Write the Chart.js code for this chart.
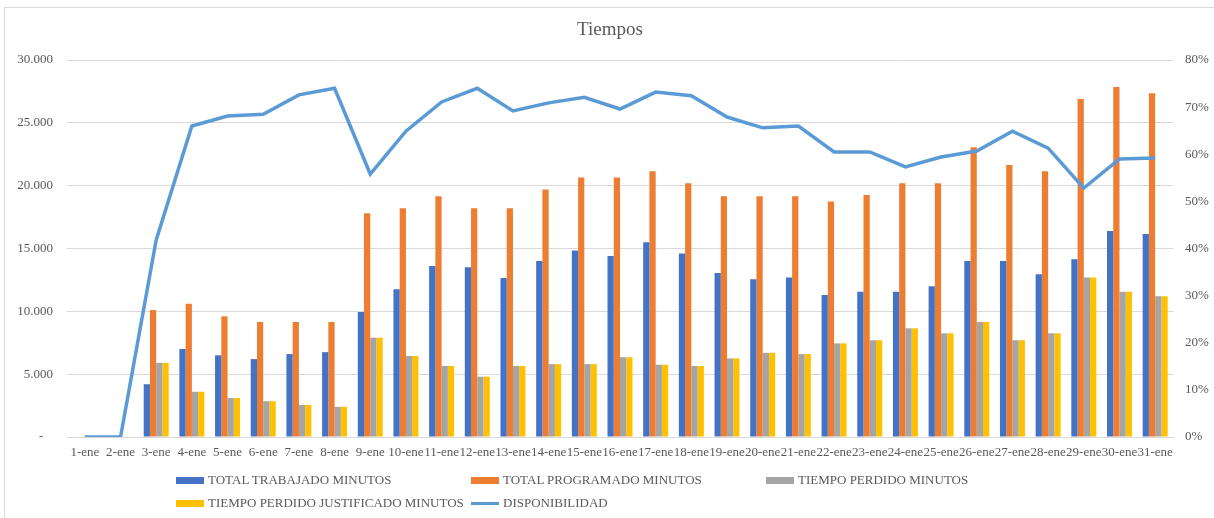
<!DOCTYPE html>
<html>
<head>
<meta charset="utf-8">
<title>Tiempos</title>
<script src="https://cdn.jsdelivr.net/npm/chart.js@4.4.0/dist/chart.umd.min.js"></script>
<style>
  html, body { margin: 0; padding: 0; background: #fff; }
  #wrap { position: relative; width: 1214px; height: 518px; overflow: hidden; }
  #frame { position: absolute; left: 4px; top: 7px; width: 1300px; height: 600px;
           border-left: 1px solid #d9d9d9; border-top: 1px solid #d9d9d9; }
  #title { position: absolute; left: 0; width: 1220px; top: 18px; text-align: center;
           font: 19px "Liberation Serif", serif; color: #595959; }
  canvas { position: absolute; left: 0; top: 0; }
  .lg { position: absolute; font: 13px "Liberation Serif", serif; color: #595959;
        white-space: nowrap; display: flex; align-items: center; }
  .lg i { display: inline-block; width: 28px; margin-right: 4px; }
</style>
</head>
<body>
<div id="wrap">
  <div id="frame"></div>
  <canvas id="tiemposChart" width="1214" height="518"></canvas>
  <div id="title">Tiempos</div>
  <div id="legend"></div>
</div>
<script>
"use strict";

// Days of January
const dias = ["1-ene","2-ene","3-ene","4-ene","5-ene","6-ene","7-ene","8-ene","9-ene","10-ene",
  "11-ene","12-ene","13-ene","14-ene","15-ene","16-ene","17-ene","18-ene","19-ene","20-ene",
  "21-ene","22-ene","23-ene","24-ene","25-ene","26-ene","27-ene","28-ene","29-ene","30-ene","31-ene"];

const totalTrabajado = [0, 0, 4200, 7000, 6500, 6200, 6600, 6750, 9950, 11750,
  13600, 13500, 12650, 14000, 14850, 14400, 15500, 14600, 13050, 12550,
  12700, 11300, 11550, 11550, 12000, 14000, 14000, 12950, 14150, 16400, 16150];

const totalProgramado = [0, 0, 10100, 10600, 9600, 9150, 9150, 9150, 17800, 18200,
  19150, 18200, 18200, 19700, 20650, 20650, 21150, 20200, 19150, 19150,
  19150, 18750, 19250, 20200, 20200, 23050, 21650, 21150, 26900, 27850, 27350];

const tiempoPerdido = [0, 0, 5900, 3600, 3100, 2850, 2550, 2400, 7900, 6450,
  5650, 4800, 5650, 5800, 5800, 6350, 5750, 5650, 6250, 6700,
  6600, 7450, 7700, 8650, 8250, 9150, 7700, 8250, 12700, 11550, 11200];

const tiempoJustificado = [0, 0, 5900, 3600, 3100, 2850, 2550, 2400, 7900, 6450,
  5650, 4800, 5650, 5800, 5800, 6350, 5750, 5650, 6250, 6700,
  6600, 7450, 7700, 8650, 8250, 9150, 7700, 8250, 12700, 11550, 11200];

// percent
const disponibilidad = [0, 0, 41.8, 66.0, 68.1, 68.5, 72.6, 74.0, 55.8, 64.9,
  71.1, 74.0, 69.2, 70.9, 72.1, 69.6, 73.2, 72.4, 67.9, 65.6,
  66.0, 60.5, 60.5, 57.3, 59.4, 60.7, 64.9, 61.3, 52.8, 59.0, 59.2];

const leftTicks = [0, 5000, 10000, 15000, 20000, 25000, 30000];
const rightTicks = [0, 10, 20, 30, 40, 50, 60, 70, 80];

const serif = "'Liberation Serif', 'Times New Roman', serif";
const grey = "#595959";

function miles(v) {
  if (v === 0) return "-   ";
  return Math.round(v).toString().replace(/\B(?=(\d{3})+(?!\d))/g, ".");
}

const barDefaults = { type: "bar", yAxisID: "y", order: 1, categoryPercentage: 0.7, barPercentage: 1 };

const chart = new Chart(document.getElementById("tiemposChart"), {
  data: {
    labels: dias,
    datasets: [
      Object.assign({ label: "TOTAL TRABAJADO MINUTOS", data: totalTrabajado, backgroundColor: "#4472c4" }, barDefaults),
      Object.assign({ label: "TOTAL PROGRAMADO MINUTOS", data: totalProgramado, backgroundColor: "#ed7d31" }, barDefaults),
      Object.assign({ label: "TIEMPO PERDIDO MINUTOS", data: tiempoPerdido, backgroundColor: "#a5a5a5" }, barDefaults),
      Object.assign({ label: "TIEMPO PERDIDO JUSTIFICADO MINUTOS", data: tiempoJustificado, backgroundColor: "#ffc000" }, barDefaults),
      {
        type: "line", label: "DISPONIBILIDAD", data: disponibilidad, yAxisID: "y1", order: 0,
        borderColor: "#5b9bd5", backgroundColor: "#5b9bd5", borderWidth: 3.5,
        pointRadius: 0, tension: 0, fill: false
      }
    ]
  },
  options: {
    responsive: false,
    animation: false,
    layout: { padding: { top: 60, bottom: 48, left: 0, right: 0 } },
    plugins: { legend: { display: false }, title: { display: false }, tooltip: { enabled: false } },
    scales: {
      x: {
        grid: { display: false, drawTicks: false },
        border: { display: true, color: "#d9d9d9" },
        ticks: { font: { family: serif, size: 13 }, color: grey, maxRotation: 0, autoSkip: false, padding: 8 },
        afterFit: s => { s.height = 33; }
      },
      y: {
        position: "left", min: 0, max: 30000,
        afterBuildTicks: s => { s.ticks = leftTicks.map(v => ({ value: v })); },
        grid: { color: "#d9d9d9", drawTicks: false },
        border: { display: false },
        ticks: { font: { family: serif, size: 13 }, color: grey, padding: 14, callback: v => miles(v) },
        afterFit: s => { s.width = 67; }
      },
      y1: {
        position: "right", min: 0, max: 80,
        afterBuildTicks: s => { s.ticks = rightTicks.map(v => ({ value: v })); },
        grid: { display: false, drawTicks: false },
        border: { display: false },
        ticks: { font: { family: serif, size: 13 }, color: grey, padding: 12, callback: v => v + "%" },
        afterFit: s => { s.width = 41; }
      }
    }
  }
});

// Legend in Excel's grid layout
const legendSpots = [[176, 480], [471, 480], [766, 480], [176, 503], [471, 503]];
const legend = document.getElementById("legend");
chart.data.datasets.forEach((ds, i) => {
  const item = document.createElement("div");
  item.className = "lg";
  item.style.left = legendSpots[i][0] + "px";
  item.style.top = (legendSpots[i][1] - 8) + "px";
  const sw = document.createElement("i");
  sw.style.background = ds.type === "line" ? ds.borderColor : ds.backgroundColor;
  sw.style.height = ds.type === "line" ? "3px" : "7px";
  item.appendChild(sw);
  item.appendChild(document.createTextNode(ds.label));
  legend.appendChild(item);
});
</script>
</body>
</html>
